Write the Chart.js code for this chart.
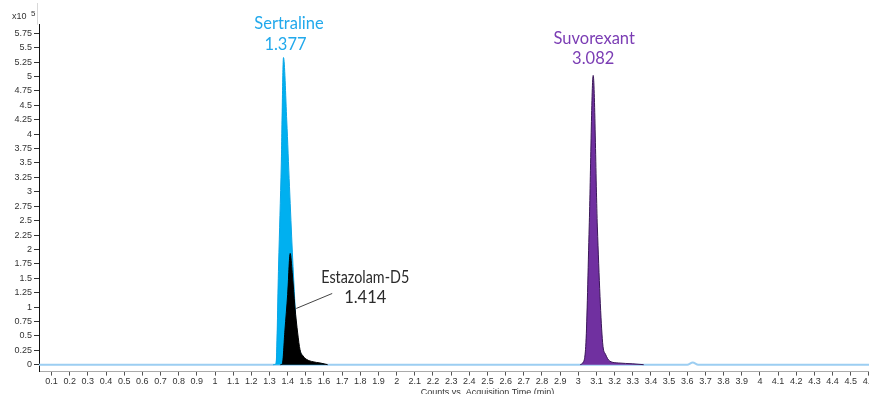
<!DOCTYPE html>
<html><head><meta charset="utf-8">
<script src="https://cdn.jsdelivr.net/npm/chart.js@4/dist/chart.umd.min.js"></script>
<style>html,body{margin:0;padding:0;background:#fff;overflow:hidden;width:869px;height:394px}canvas{display:block}</style>
</head><body>
<canvas id="c" width="890" height="394"></canvas>
<script>
// ---- data ----
const xTicks = [0.1,0.2,0.3,0.4,0.5,0.6,0.7,0.8,0.9,1,1.1,1.2,1.3,1.4,1.5,1.6,1.7,1.8,1.9,2,2.1,2.2,2.3,2.4,2.5,2.6,2.7,2.8,2.9,3,3.1,3.2,3.3,3.4,3.5,3.6,3.7,3.8,3.9,4,4.1,4.2,4.3,4.4,4.5,4.6];
const xTickLabels = ['0.1','0.2','0.3','0.4','0.5','0.6','0.7','0.8','0.9','1','1.1','1.2','1.3','1.4','1.5','1.6','1.7','1.8','1.9','2','2.1','2.2','2.3','2.4','2.5','2.6','2.7','2.8','2.9','3','3.1','3.2','3.3','3.4','3.5','3.6','3.7','3.8','3.9','4','4.1','4.2','4.3','4.4','4.5','4.6'];
const yTicks = [0,0.25,0.5,0.75,1,1.25,1.5,1.75,2,2.25,2.5,2.75,3,3.25,3.5,3.75,4,4.25,4.5,4.75,5,5.25,5.5,5.75];
const yTickLabels = ['0','0.25','0.5','0.75','1','1.25','1.5','1.75','2','2.25','2.5','2.75','3','3.25','3.5','3.75','4','4.25','4.5','4.75','5','5.25','5.5','5.75'];

const sertralineTime  = [1.320,1.336,1.350,1.365,1.377,1.395,1.410,1.426,1.440,1.450,1.465,1.480,1.496,1.515,1.534,1.560,1.600];
const sertralineValue = [0,    0.02, 1.73, 3.50, 5.33, 4.23, 3.09, 1.94, 1.05, 0.43, 0.25, 0.15, 0.09, 0.05, 0.03, 0.02, 0.01];

const estazolamTime  = [1.360,1.371,1.385,1.400,1.414,1.425,1.440,1.455,1.468,1.485,1.505,1.540,1.578,1.620];
const estazolamValue = [0,    0.02, 0.60, 1.22, 1.93, 1.60, 1.00, 0.55, 0.26, 0.15, 0.09, 0.05, 0.03, 0];

const suvorexantTime  = [3.010,3.024,3.042,3.060,3.082,3.105,3.134,3.150,3.174,3.220,3.300,3.360];
const suvorexantValue = [0,    0.03, 0.38, 2.39, 5.02, 2.39, 0.38, 0.18, 0.06, 0.03, 0.015,0];

const baselineTime  = [0.031,3.600,3.630,3.660,4.716];
const baselineValue = [0,    0,    0.04, 0,    0];

const compounds = ['Estazolam-D5','Sertraline','Suvorexant'];
const retentionTimes = ['1.414','1.377','3.082'];

const pts = (t, v) => t.map((x, i) => ({x, y: v[i]}));

const FONT = '"Liberation Sans Narrow","Liberation Sans",Arial,sans-serif';

const labelPlugin = {
  id: 'labels',
  afterDraw(chart) {
    const ctx = chart.ctx;
    const xs = chart.scales.x, ys = chart.scales.y;
    const apex = (t, v) => {
      let k = 0; v.forEach((val, i) => { if (val > v[k]) k = i; });
      return {x: xs.getPixelForValue(t[k]), y: ys.getPixelForValue(v[k])};
    };
    ctx.save();
    ctx.textAlign = 'center'; ctx.textBaseline = 'middle';
    ctx.font = '16.5px Lato, "Open Sans", sans-serif';
    // Sertraline
    let a = apex(sertralineTime, sertralineValue);
    ctx.fillStyle = '#22A9EC';
    ctx.fillText(compounds[1], a.x + 5.5, a.y - 33.5);
    ctx.fillText(retentionTimes[1], a.x + 2, a.y - 12.5);
    // Suvorexant
    a = apex(suvorexantTime, suvorexantValue);
    ctx.fillStyle = '#7B3DB4';
    ctx.fillText(compounds[2], a.x + 1, a.y - 37);
    ctx.fillText(retentionTimes[2], a.x, a.y - 17);
    // Estazolam
    a = apex(estazolamTime, estazolamValue);
    ctx.fillStyle = '#2b2b2b';
    ctx.fillText(compounds[0], a.x + 75, a.y + 24, 88);
    ctx.fillText(retentionTimes[0], a.x + 75, a.y + 44);
    ctx.strokeStyle = '#444'; ctx.lineWidth = 1;
    ctx.beginPath(); ctx.moveTo(a.x + 6, a.y + 55); ctx.lineTo(a.x + 42, a.y + 40); ctx.stroke();
    // axis multiplier
    ctx.fillStyle = '#333';
    ctx.font = '9px ' + FONT;
    ctx.textAlign = 'left';
    ctx.fillText('x10', 12, 17);
    ctx.font = '8px ' + FONT;
    ctx.fillText('5', 31, 14);
    // x title
    ctx.font = '9px ' + FONT;
    ctx.textAlign = 'center';
    ctx.fillText('Counts vs. Acquisition Time (min)', xs.getPixelForValue(2.5), chart.chartArea.bottom + 21);
    // faint line above axis
    ctx.strokeStyle = '#d8d8d8';
    ctx.beginPath(); ctx.moveTo(37.5, 3); ctx.lineTo(37.5, chart.chartArea.top); ctx.stroke();
    ctx.restore();
  }
};

new Chart(document.getElementById('c'), {
  type: 'line',
  data: {
    datasets: [
      {label: compounds[0], data: pts(estazolamTime, estazolamValue), borderColor: '#000', backgroundColor: '#000', fill: 'origin', borderWidth: 1, pointRadius: 0, cubicInterpolationMode: 'monotone'},
      {label: compounds[1], data: pts(sertralineTime, sertralineValue), borderColor: '#0AA6E6', backgroundColor: '#00B0F0', fill: 'origin', borderWidth: 1, pointRadius: 0, cubicInterpolationMode: 'monotone'},
      {label: compounds[2], data: pts(suvorexantTime, suvorexantValue), borderColor: '#3a1758', backgroundColor: '#7030A0', fill: 'origin', borderWidth: 1, pointRadius: 0, cubicInterpolationMode: 'monotone'},
      {label: 'baseline', data: pts(baselineTime, baselineValue), borderColor: '#9CCEF2', backgroundColor: '#9CCEF2', fill: false, borderWidth: 2, pointRadius: 0, cubicInterpolationMode: 'monotone'}
    ]
  },
  options: {
    responsive: false,
    animation: false,
    devicePixelRatio: 1,
    layout: {padding: {top: 24.7, left: 0, right: 0, bottom: 0}},
    plugins: {legend: {display: false}, tooltip: {enabled: false}},
    scales: {
      x: {
        type: 'linear', min: 0.031, max: 4.716,
        afterBuildTicks: s => { s.ticks = xTicks.map(v => ({value: v})); },
        afterFit: s => { s.height = 22.4; },
        ticks: {autoSkip: false, maxRotation: 0, padding: 1, color: '#333', font: {family: FONT, size: 9}, callback: (v, i) => xTickLabels[i]},
        grid: {drawOnChartArea: false, drawTicks: true, tickLength: 4, color: '#555'},
        border: {display: true, color: '#aaa', width: 1}
      },
      y: {
        type: 'linear', min: -0.12, max: 5.9,
        afterBuildTicks: s => { s.ticks = yTicks.map(v => ({value: v})); },
        afterFit: s => { s.width = 39; },
        ticks: {autoSkip: false, padding: 2, color: '#333', font: {family: FONT, size: 9}, callback: (v, i) => yTickLabels[i]},
        grid: {drawOnChartArea: false, drawTicks: true, tickLength: 5, color: '#333'},
        border: {display: true, color: '#111', width: 1}
      }
    }
  },
  plugins: [labelPlugin]
});
</script>
</body></html>
